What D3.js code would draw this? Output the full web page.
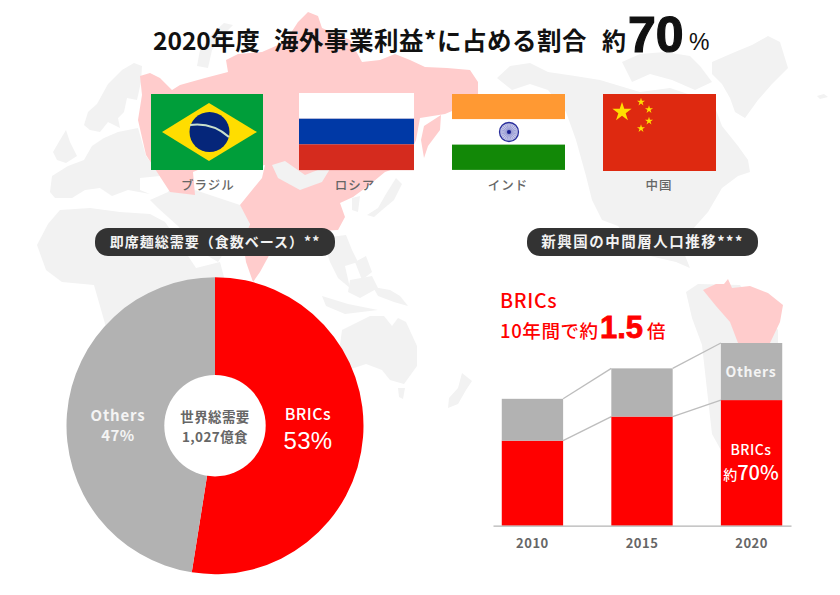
<!doctype html>
<html>
<head>
<meta charset="utf-8">
<style>
  html, body { margin: 0; padding: 0; background: #fff; }
  svg { display: block; }
  text { font-family: "Noto Sans CJK JP", sans-serif; }
  .latin { font-family: "Liberation Sans", sans-serif; }
</style>
<script src="https://d3js.org/d3.v7.min.js"></script>
</head>
<body>
<svg width="840" height="595"></svg>
<script>
// pie values (wedge, the printed labels are rounded)
const pieLabels = ["BRICs", "Others"];
const pieValues = [52.5, 47.5];
const pieText = ["53%", "47%"];

// bars, index with 2010 total = 100
const years = ["2010", "2015", "2020"];
const bricsValues = [67, 86, 99];
const othersValues = [33, 38, 45];

const countries = ["ブラジル", "ロシア", "インド", "中国"];

const svg = d3.select("svg");
const RED = "#ff0000", GREY = "#b2b2b2";

// ---- background map, rough hand traced outlines ----
const greyLand = [
  // scandinavia
  [[84,125],[88,112],[97,104],[108,84],[122,70],[134,63],[142,66],[141,82],[137,100],[127,98],[124,112],[118,118],[120,128],[108,122],[100,132],[90,130]],
  // uk
  [[53,152],[60,140],[66,130],[70,142],[77,156],[66,163],[57,160]],
  // europe
  [[50,192],[52,176],[68,166],[84,160],[92,146],[104,138],[118,132],[138,128],[146,156],[158,172],[170,190],[160,176],[140,178],[140,190],[150,194],[128,190],[112,196],[100,188],[85,190],[72,198],[55,198]],
  // middle east, kazakhstan
  [[168,192],[178,178],[195,190],[240,205],[250,222],[245,245],[232,240],[218,262],[198,250],[178,226],[158,208],[150,200]],
  // africa
  [[37,245],[48,224],[60,210],[90,208],[120,212],[150,214],[165,222],[180,244],[196,268],[220,262],[230,300],[210,420],[130,420],[104,320],[94,285],[62,282],[46,270]],
  // novaya zemlya
  [[197,66],[200,50],[212,34],[224,23],[233,25],[222,36],[212,50],[208,68]],
  // japan
  [[367,215],[378,208],[386,194],[396,178],[402,184],[394,200],[382,210],[374,217]],
  // korea, kurils
  [[352,198],[360,196],[358,212],[352,210]],
  // se asia
  [[322,238],[346,235],[352,250],[358,262],[345,266],[350,288],[338,278],[330,262]],
  // philippines, borneo
  [[355,262],[366,256],[372,272],[362,280]],
  [[350,280],[372,276],[378,288],[360,298],[348,292]],
  [[322,296],[348,304],[378,310],[345,314],[326,306]],
  // new guinea
  [[373,287],[390,290],[400,296],[408,306],[394,302],[378,296]],
  // australia
  [[342,330],[358,322],[370,316],[384,316],[392,326],[398,318],[406,322],[417,346],[417,366],[404,384],[390,380],[382,370],[366,364],[348,370],[341,360],[340,345]],
  [[398,388],[405,388],[403,399],[399,397]],
  // new zealand
  [[462,373],[472,381],[466,390],[458,404],[448,408],[449,398],[458,388]],
  // greenland
  [[712,62],[735,52],[752,45],[768,36],[780,42],[788,68],[772,84],[758,100],[745,118],[735,112],[730,98],[722,84],[712,74]],
  // canadian islands
  [[622,62],[640,54],[665,52],[690,56],[700,66],[712,82],[695,90],[672,80],[650,74],[632,82]],
  // north america
  [[497,78],[510,66],[530,63],[548,72],[575,76],[600,80],[640,92],[670,88],[700,98],[716,110],[722,126],[738,146],[748,160],[750,172],[738,176],[722,188],[708,212],[692,230],[682,248],[690,268],[676,262],[650,256],[634,248],[618,226],[602,220],[592,200],[586,176],[576,140],[566,112],[548,90],[530,84],[512,90]],
  // south america
  [[686,292],[698,284],[740,285],[778,330],[778,400],[750,440],[722,452],[712,434],[707,390],[702,345],[692,318]],
  // iceland
  [[817,96],[824,94],[828,97],[820,99]]
];
const pinkLand = [
  // russia, china, india
  [[140,76],[150,73],[160,78],[172,90],[180,85],[205,78],[228,72],[226,60],[238,54],[262,52],[285,42],[298,22],[308,12],[318,16],[322,28],[350,40],[362,62],[380,60],[395,54],[410,60],[425,67],[447,68],[470,70],[478,82],[478,100],[445,114],[420,118],[416,140],[405,165],[385,172],[368,186],[353,197],[340,203],[345,217],[338,230],[300,232],[285,232],[272,250],[260,272],[253,282],[246,262],[243,242],[250,224],[240,205],[262,178],[265,165],[240,170],[210,165],[193,172],[195,195],[170,192],[157,172],[146,155],[138,120],[142,95]],
  // kamchatka
  [[441,115],[440,130],[428,146],[424,158],[421,140],[424,126]],
  // brazil
  [[703,290],[716,284],[724,284],[728,279],[732,288],[750,286],[768,293],[783,305],[780,322],[770,343],[738,343],[730,322],[716,306]]
];
const mongolia = [[272,165],[285,161],[305,175],[333,164],[322,182],[300,190],[278,178]];

const landLine = d3.line().curve(d3.curveLinearClosed);
const mapLayer = svg.append("g");
mapLayer.selectAll(".grey").data(greyLand).enter().append("path")
  .attr("d", landLine).attr("fill", "#f2f2f2");
mapLayer.selectAll(".pink").data(pinkLand).enter().append("path")
  .attr("d", landLine).attr("fill", "#ffcccc");
mapLayer.append("path").attr("d", landLine(mongolia)).attr("fill", "#f2f2f2");

// ---- title ----
const title = svg.append("text").attr("y", 50).attr("fill", "#111").attr("font-weight", 700);
title.append("tspan").attr("x", 153).attr("font-size", 24.5).text("2020年度");
title.append("tspan").attr("x", 274).attr("font-size", 24.5).attr("letter-spacing", 0.5).text("海外事業利益*に占める割合");
title.append("tspan").attr("x", 602).attr("font-size", 24).text("約");
svg.append("text").attr("class", "latin").attr("x", 628).attr("y", 52).attr("font-size", 50)
  .attr("font-weight", 700).attr("fill", "#111").attr("stroke", "#111").attr("stroke-width", 1.2).text("70");
svg.append("text").attr("class", "latin").attr("x", 689).attr("y", 50).attr("font-size", 23)
  .attr("fill", "#111").text("%");

// ---- flags ----
const flagX = d3.scaleOrdinal().domain(countries).range([208, 355, 508, 659]);
const brazil = svg.append("g");
brazil.append("rect").attr("x", 151).attr("y", 94).attr("width", 112).attr("height", 76).attr("fill", "#009e3a");
brazil.append("path").attr("d", "M162,132L209,103L257,132L209,161Z").attr("fill", "#ffdd00");
brazil.append("circle").attr("cx", 209.5).attr("cy", 132).attr("r", 20).attr("fill", "#05267a");
brazil.append("path").attr("d", "M190,125Q212,122 229,137").attr("fill", "none")
  .attr("stroke", "#c9e0cc").attr("stroke-width", 2.2);

const russiaColors = ["#ffffff", "#0039a6", "#d52b1e"];
russiaColors.forEach((c, i) => {
  svg.append("rect").attr("x", 299).attr("y", 93 + i * 25.7).attr("width", 115).attr("height", 25.7).attr("fill", c);
});

const indiaColors = ["#ff9933", "#ffffff", "#128807"];
indiaColors.forEach((c, i) => {
  svg.append("rect").attr("x", 452).attr("y", 94 + i * 25.3).attr("width", 113).attr("height", 25.3).attr("fill", c);
});
svg.append("circle").attr("cx", 509).attr("cy", 132).attr("r", 9.5).attr("fill", "#c9cbea")
  .attr("stroke", "#2a2f9c").attr("stroke-width", 1.3);
d3.range(24).forEach(i => {
  const a = i * Math.PI / 12;
  svg.append("line").attr("x1", 509).attr("y1", 132)
    .attr("x2", 509 + 9 * Math.cos(a)).attr("y2", 132 + 9 * Math.sin(a))
    .attr("stroke", "#5a5fb8").attr("stroke-width", 0.4);
});
svg.append("circle").attr("cx", 509).attr("cy", 132).attr("r", 2).attr("fill", "#1a1f90");

svg.append("rect").attr("x", 603).attr("y", 94).attr("width", 113).attr("height", 77).attr("fill", "#de2910");
const star = d3.symbol().type(d3.symbolStar);
const chinaStars = [[622, 112, 115], [641, 102, 20], [649, 109.5, 20], [649, 121, 20], [641, 128.5, 20]];
svg.selectAll(".star").data(chinaStars).enter().append("path")
  .attr("d", d => star.size(d[2])())
  .attr("transform", d => "translate(" + d[0] + "," + d[1] + ")")
  .attr("fill", "#ffde00");

svg.selectAll(".country").data(countries).enter().append("text")
  .attr("x", d => flagX(d)).attr("y", 190)
  .attr("text-anchor", "middle").attr("font-size", 12.5).attr("font-weight", 500)
  .attr("letter-spacing", 1).attr("fill", "#666").text(d => d);

// ---- pills ----
function pill(x, y, w, h, label, size, spacing) {
  svg.append("rect").attr("x", x).attr("y", y).attr("width", w).attr("height", h)
    .attr("rx", h / 2 - 1).attr("fill", "#333");
  svg.append("text").attr("x", x + w / 2).attr("y", y + h / 2 + 5).attr("text-anchor", "middle")
    .attr("font-size", size).attr("font-weight", 700).attr("letter-spacing", spacing)
    .attr("fill", "#f2f2f2").text(label);
}
pill(95, 228, 240, 28, "即席麺総需要（食数ベース）**", 14, 1);
pill(527, 228, 231, 28, "新興国の中間層人口推移***", 14.5, 1.5);

// ---- pie ----
const pieColors = d3.scaleOrdinal().domain(pieLabels).range([RED, GREY]);
const pie = d3.pie().sort(null);
const arc = d3.arc().innerRadius(0).outerRadius(148.5);
const pieG = svg.append("g").attr("transform", "translate(215,425.7)");
pieG.selectAll("path").data(pie(pieValues)).enter().append("path")
  .attr("d", arc).attr("fill", (d, i) => pieColors(pieLabels[i]));
pieG.append("circle").attr("r", 50.7).attr("fill", "#fff");

function centered(x, y, str, size, weight, fill, spacing) {
  return svg.append("text").attr("x", x).attr("y", y).attr("text-anchor", "middle")
    .attr("font-size", size).attr("font-weight", weight).attr("fill", fill)
    .attr("letter-spacing", spacing || 0).text(str);
}
centered(118, 421, pieLabels[1], 15, 700, "#f4f4f4", 0.8);
centered(118, 441, pieText[1], 15, 700, "#f4f4f4", 0.4);
centered(308, 420, pieLabels[0], 16, 500, "#fff", 0.5);
centered(308, 448.5, pieText[0], 24, 400, "#fff", 0.3).attr("class", "latin");
centered(215, 422, "世界総需要", 13.5, 700, "#666", 0.4);
centered(215, 442, "1,027億食", 13.5, 700, "#666", 0.4);

// ---- stacked bars ----
const x = d3.scaleBand().domain(years).range([493, 791]).paddingInner(0.44).paddingOuter(0.08);
const y = d3.scaleLinear().domain([0, 144]).range([525.7, 343]);

// connector lines between bar tops
const totals = years.map((d, i) => bricsValues[i] + othersValues[i]);
[totals, bricsValues].forEach(series => {
  d3.pairs(years.map((d, i) => [d, series[i]])).forEach(p => {
    svg.append("line")
      .attr("x1", x(p[0][0]) + x.bandwidth()).attr("y1", y(p[0][1]))
      .attr("x2", x(p[1][0])).attr("y2", y(p[1][1]))
      .attr("stroke", "#bdbdbd").attr("stroke-width", 1.3);
  });
});

svg.selectAll(".brics").data(years).enter().append("rect")
  .attr("x", d => x(d)).attr("width", x.bandwidth())
  .attr("y", (d, i) => y(bricsValues[i]))
  .attr("height", (d, i) => y(0) - y(bricsValues[i]))
  .attr("fill", RED);
svg.selectAll(".others").data(years).enter().append("rect")
  .attr("x", d => x(d)).attr("width", x.bandwidth())
  .attr("y", (d, i) => y(totals[i]))
  .attr("height", (d, i) => y(bricsValues[i]) - y(totals[i]))
  .attr("fill", GREY);

const axis = svg.append("g").attr("transform", "translate(0,525.7)")
  .call(d3.axisBottom(x).tickSize(0).tickPadding(13));
axis.select(".domain").attr("stroke", "#b5b5b5").attr("stroke-width", 1.3);
axis.selectAll("text").attr("font-family", '"Noto Sans CJK JP", sans-serif')
  .attr("font-size", 13).attr("font-weight", 700).attr("fill", "#666").attr("letter-spacing", 0.5);

// bar captions
centered(751, 377, "Others", 14, 700, "#f4f4f4", 0.7);
centered(751, 455, "BRICs", 14, 500, "#fff", 0.5);
const pct = centered(751, 480, "", 20, 500, "#fff", 0);
pct.append("tspan").attr("font-size", 14).text("約");
pct.append("tspan").text("70%");

// red callout
svg.append("text").attr("x", 500).attr("y", 308).attr("font-size", 19.5).attr("font-weight", 500)
  .attr("letter-spacing", 0.7).attr("fill", RED).text("BRICs");
const callout = svg.append("text").attr("y", 338).attr("fill", RED).attr("font-weight", 500);
callout.append("tspan").attr("x", 500).attr("font-size", 18.5).attr("letter-spacing", 0.6).text("10年間で約");
callout.append("tspan").attr("class", "latin").attr("x", 600).attr("font-size", 31).attr("font-weight", 700)
  .attr("stroke", RED).attr("stroke-width", 0.8).style("font-family", '"Liberation Sans", sans-serif').text("1.5");
callout.append("tspan").attr("x", 647).attr("font-size", 18.5).text("倍");
</script>
</body>
</html>
